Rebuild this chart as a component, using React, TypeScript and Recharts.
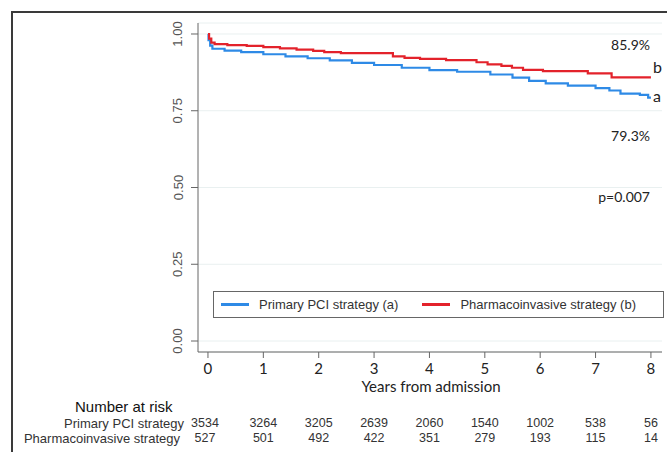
import { LineChart, Line, XAxis, YAxis, CartesianGrid } from 'recharts';

// Kaplan-Meier steps: [years, survival]
const PRIMARY_T = [0, 0.01, 0.04, 0.08, 0.3, 0.6, 1.0, 1.4, 1.8, 2.2, 2.6, 3.0, 3.5, 4.0, 4.5, 5.1, 5.5, 5.8, 6.1, 6.5, 7.0, 7.25, 7.45, 7.8, 7.95, 8.0];
const PRIMARY_S = [1.0, 0.98, 0.962, 0.952, 0.946, 0.941, 0.934, 0.927, 0.921, 0.914, 0.906, 0.899, 0.89, 0.882, 0.877, 0.868, 0.858, 0.847, 0.839, 0.832, 0.824, 0.816, 0.806, 0.802, 0.793, 0.793];

const PHARMA_T = [0, 0.02, 0.06, 0.12, 0.35, 0.7, 1.0, 1.3, 1.6, 1.9, 2.1, 2.4, 3.34, 3.55, 3.83, 4.3, 4.85, 5.05, 5.3, 5.49, 5.69, 6.05, 6.86, 7.29, 8.0];
const PHARMA_S = [1.0, 0.985, 0.972, 0.967, 0.964, 0.961, 0.957, 0.953, 0.949, 0.945, 0.941, 0.938, 0.927, 0.922, 0.919, 0.915, 0.908, 0.901, 0.896, 0.89, 0.883, 0.879, 0.872, 0.859, 0.859];

const YEARS = [0, 1, 2, 3, 4, 5, 6, 7, 8];
const Y_TICKS = [0, 0.25, 0.5, 0.75, 1];
const RISK_PRIMARY = [3534, 3264, 3205, 2639, 2060, 1540, 1002, 538, 56];
const RISK_PHARMA = [527, 501, 492, 422, 351, 279, 193, 115, 14];

const BLUE = '#2e8ae6';
const RED = '#e3222b';
const ARIAL = '"Liberation Sans", Arial, sans-serif';
const CALIBRI = 'Lato, "Open Sans", sans-serif';

const W = 667;
const H = 452;
const Y_AXIS_W = 40;
const X_AXIS_H = 30;
// plot area: x 198..662, y 23..352
const MARGIN = { top: 23, right: 5, left: 198 - Y_AXIS_W, bottom: 100 - X_AXIS_H };
const X_DOMAIN: [number, number] = [-0.18, 8.2];
const Y_DOMAIN: [number, number] = [-0.0358, 1.0358];

const primaryData = PRIMARY_T.map((t, i) => ({ t, s: PRIMARY_S[i] }));
const pharmaData = PHARMA_T.map((t, i) => ({ t, s: PHARMA_S[i] }));

// x pixel of a year, same mapping as the chart's x scale
function xOf(year: number) {
  const plotW = W - 198 - MARGIN.right;
  return 198 + ((year - X_DOMAIN[0]) / (X_DOMAIN[1] - X_DOMAIN[0])) * plotW;
}

function YTick(props: any) {
  const { x, y, payload } = props;
  return (
    <text
      x={x}
      y={y}
      transform={`rotate(-90, ${x}, ${y})`}
      textAnchor="middle"
      dominantBaseline="central"
      fill="#555"
      fontSize={13}
      fontFamily={ARIAL}
    >
      {Number(payload.value).toFixed(2)}
    </text>
  );
}

function LegendBox() {
  const item = (color: string, label: string) => (
    <div style={{ display: 'flex', alignItems: 'center' }}>
      <div style={{ width: 28, height: 3, background: color, marginRight: 10 }} />
      <span>{label}</span>
    </div>
  );
  return (
    <div
      style={{
        position: 'absolute',
        left: 213,
        top: 291,
        boxSizing: 'border-box',
        width: 451,
        height: 27,
        border: '1px solid #666',
        background: '#fff',
        display: 'flex',
        alignItems: 'center',
        padding: '0 0 0 7px',
        gap: 24,
        fontFamily: ARIAL,
        fontSize: 13,
        color: '#333',
      }}
    >
      {item(BLUE, 'Primary PCI strategy (a)')}
      {item(RED, 'Pharmacoinvasive strategy (b)')}
    </div>
  );
}

function Txt({ x, y, size, font, color = '#222', align = 'left', children }: any) {
  const style: any = {
    position: 'absolute',
    top: y - size / 2,
    fontSize: size,
    lineHeight: `${size}px`,
    fontFamily: font,
    color,
    whiteSpace: 'nowrap',
  };
  if (align === 'right') style.right = W - x;
  else if (align === 'center') {
    style.left = x - 40;
    style.width = 80;
    style.textAlign = 'center';
  } else style.left = x;
  return <div style={style}>{children}</div>;
}

export default function App() {
  return (
    <div style={{ position: 'absolute', left: 0, top: 0, width: W, height: H, background: '#fff', overflow: 'hidden' }}>
      <div
        style={{
          position: 'absolute',
          left: 11,
          top: 11,
          width: W,
          height: H,
          borderTop: '2px solid #3a3a3a',
          borderLeft: '2px solid #3a3a3a',
        }}
      />
      <LineChart width={W} height={H} margin={MARGIN} style={{ position: 'absolute', left: 0, top: 0 }}>
        <CartesianGrid horizontal vertical={false} stroke="#e9f0f0" />
        <XAxis
          dataKey="t"
          type="number"
          domain={X_DOMAIN}
          ticks={YEARS}
          allowDataOverflow
          height={X_AXIS_H}
          stroke="#666"
          tickSize={6}
          tickMargin={5}
          tick={{ fill: '#222', fontSize: 15, fontFamily: CALIBRI }}
        />
        <YAxis
          dataKey="s"
          type="number"
          domain={Y_DOMAIN}
          ticks={Y_TICKS}
          allowDataOverflow
          width={Y_AXIS_W}
          stroke="#666"
          tickSize={7}
          tickMargin={13}
          tick={<YTick />}
        />
        <Line
          data={primaryData}
          dataKey="s"
          type="stepAfter"
          stroke={BLUE}
          strokeWidth={2.2}
          dot={false}
          isAnimationActive={false}
        />
        <Line
          data={pharmaData}
          dataKey="s"
          type="stepAfter"
          stroke={RED}
          strokeWidth={2.2}
          dot={false}
          isAnimationActive={false}
        />
      </LineChart>
      <LegendBox />

      <Txt x={650} y={45} size={14} font={CALIBRI} align="right">85.9%</Txt>
      <Txt x={653} y={67} size={16} font={CALIBRI}>b</Txt>
      <Txt x={653} y={96} size={16} font={CALIBRI}>a</Txt>
      <Txt x={650} y={136} size={14} font={CALIBRI} align="right">79.3%</Txt>
      <Txt x={650} y={197} size={14} font={CALIBRI} align="right">p=0.007</Txt>
      <div
        style={{
          position: 'absolute',
          left: 331,
          width: 200,
          top: 379,
          textAlign: 'center',
          fontFamily: CALIBRI,
          fontSize: 15,
          lineHeight: '15px',
          color: '#222',
        }}
      >
        Years from admission
      </div>

      <Txt x={75} y={406.5} size={15} font={ARIAL} color="#111">Number at risk</Txt>
      <Txt x={184} y={423} size={13} font={ARIAL} color="#333" align="right">Primary PCI strategy</Txt>
      <Txt x={180} y={438.5} size={13} font={ARIAL} color="#333" align="right">Pharmacoinvasive strategy</Txt>
      {YEARS.map((yr, i) => (
        <Txt key={`p${yr}`} x={xOf(yr) - (i === 0 ? 3 : 0)} y={423} size={12.5} font={ARIAL} color="#333" align="center">
          {RISK_PRIMARY[i]}
        </Txt>
      ))}
      {YEARS.map((yr, i) => (
        <Txt key={`q${yr}`} x={xOf(yr) - (i === 0 ? 3 : 0)} y={438.5} size={12.5} font={ARIAL} color="#333" align="center">
          {RISK_PHARMA[i]}
        </Txt>
      ))}
    </div>
  );
}
